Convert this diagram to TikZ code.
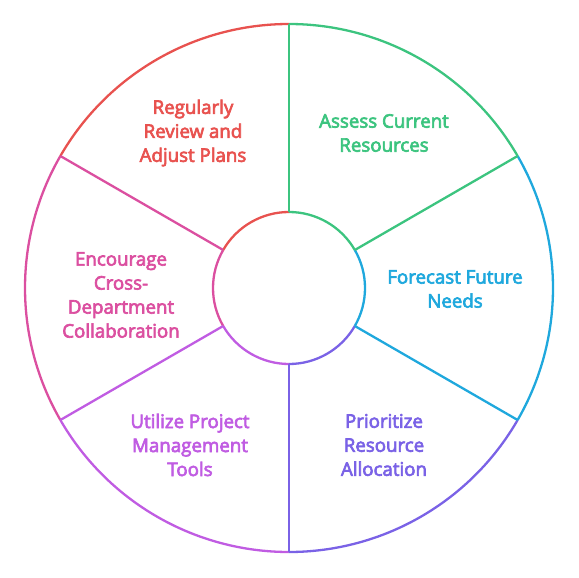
\documentclass[tikz,border=0pt]{standalone}
\usepackage{fontspec}
\newfontfamily\lblfont{Open Sans}[FakeBold=3.5]
\definecolor{cgreen}{HTML}{3CC47F}
\definecolor{cblue}{HTML}{1FA8DD}
\definecolor{cindigo}{HTML}{7A62E6}
\definecolor{cviolet}{HTML}{C05CE2}
\definecolor{cpink}{HTML}{DB4FA0}
\definecolor{cred}{HTML}{E8524F}
\begin{document}
\begin{tikzpicture}[x=1pt,y=-1pt,
  seg/.style={line width=2.3pt},
  lbl/.style={align=center,font=\lblfont\fontsize{18.7}{24}\selectfont,inner sep=0pt}]
\useasboundingbox (0,0) rectangle (579,578);
\coordinate (c) at (289,288);
\def\R{264}\def\r{76}
% arcs (angles negated because y points down)
\foreach \rad in {\R,\r}{
  \draw[seg,cgreen]  ([shift={(-90:\rad)}]c)  arc[start angle=-90,end angle=-30,radius=\rad];
  \draw[seg,cblue]   ([shift={(-30:\rad)}]c)  arc[start angle=-30,end angle=30,radius=\rad];
  \draw[seg,cindigo] ([shift={(30:\rad)}]c)   arc[start angle=30,end angle=90,radius=\rad];
  \draw[seg,cviolet] ([shift={(90:\rad)}]c)   arc[start angle=90,end angle=150,radius=\rad];
  \draw[seg,cpink]   ([shift={(150:\rad)}]c)  arc[start angle=150,end angle=210,radius=\rad];
  \draw[seg,cred]    ([shift={(210:\rad)}]c)  arc[start angle=210,end angle=270,radius=\rad];
}
% dividers
\foreach \a/\col in {-90/cgreen,-30/cgreen,30/cblue,90/cindigo,150/cviolet,210/cpink}{
  \coordinate (i\a) at ([shift={(\a:\r)}]c);
  \coordinate (o\a) at ([shift={(\a:\R)}]c);
  \draw[seg,\col] (i\a) -- (o\a);
}
% labels
\node[lbl,text=cgreen]  (t1) at (384,133) {Assess Current\\Resources};
\node[lbl,text=cblue]   (t2) at (455,289) {Forecast Future\\Needs};
\node[lbl,text=cindigo] (t3) at (384,445) {Prioritize\\Resource\\Allocation};
\node[lbl,text=cviolet] (t4) at (190,445) {Utilize Project\\Management\\Tools};
\node[lbl,text=cpink]   (t5) at (121,295) {Encourage\\Cross-\\Department\\Collaboration};
\node[lbl,text=cred]    (t6) at (193,133) {Regularly\\Review and\\Adjust Plans};
\end{tikzpicture}
\end{document}
